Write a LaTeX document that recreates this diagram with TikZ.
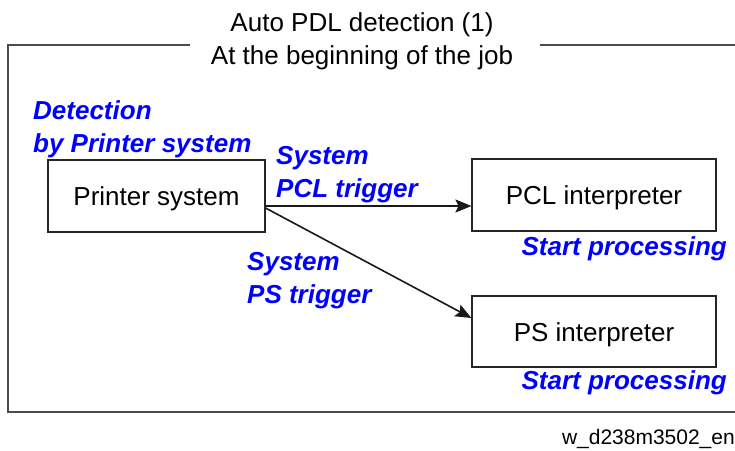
\documentclass[tikz,border=0pt]{standalone}
\usepackage{fontspec}
\setmainfont{Liberation Sans}
\usepackage{xcolor}
\usetikzlibrary{arrows.meta}

\begin{document}
\begin{tikzpicture}[x=1pt,y=-1pt,
 box/.style={draw=black!85,line width=1.1pt,minimum height=72pt,inner sep=0pt,text height=19pt,text depth=0pt,font=\fontsize{26}{33}\selectfont},
 note/.style={text=blue,font=\fontsize{26}{33}\selectfont\bfseries\itshape,align=left,inner sep=0pt},
 frame/.style={draw=black!70,line width=1.6pt},
 link/.style={draw=black!90,line width=1.6pt,-{Stealth[length=16pt,width=13pt,inset=3pt]}}]
 \useasboundingbox (0,0) rectangle (735,450);

 \node[align=center,inner sep=0pt,font=\fontsize{26}{33}\selectfont] (title) at (362,41.5)
 {Auto PDL detection (1)\\At the beginning of the job};
 \draw[frame] (190,45) -- (8,45) -- (8,412) -- (735,412);
 \draw[frame] (540,45) -- (735,45);

 \node[box,minimum width=217pt] (printer) at (156.5,196) {Printer system};
 \node[box,minimum width=244pt] (pcl) at (594,195) {PCL interpreter};
 \node[box,minimum width=244pt,minimum height=71pt] (ps) at (594,331.5) {PS interpreter};

 \node[note,anchor=west] (detect) at (33,129) {Detection\\by Printer system};
 \node[note,anchor=west] (pcltrig) at (276,175) {System\\PCL trigger};
 \node[note,anchor=west] (pstrig) at (247,280.5) {System\\PS trigger};
 \node[note,anchor=east] (pclstart) at (727,249) {Start processing};
 \node[note,anchor=east] (psstart) at (727,383) {Start processing};

 \node[anchor=east,inner sep=0pt,font=\fontsize{21}{25}\selectfont] (code) at (735,439) {w\_d238m3502\_en};

 \draw[link] ([yshift=-10pt]printer.east) -- ([yshift=-11pt]pcl.west);
 \draw[link] ([yshift=-12pt]printer.east) -- ([yshift=13.5pt]ps.west);
\end{tikzpicture}
\end{document}
